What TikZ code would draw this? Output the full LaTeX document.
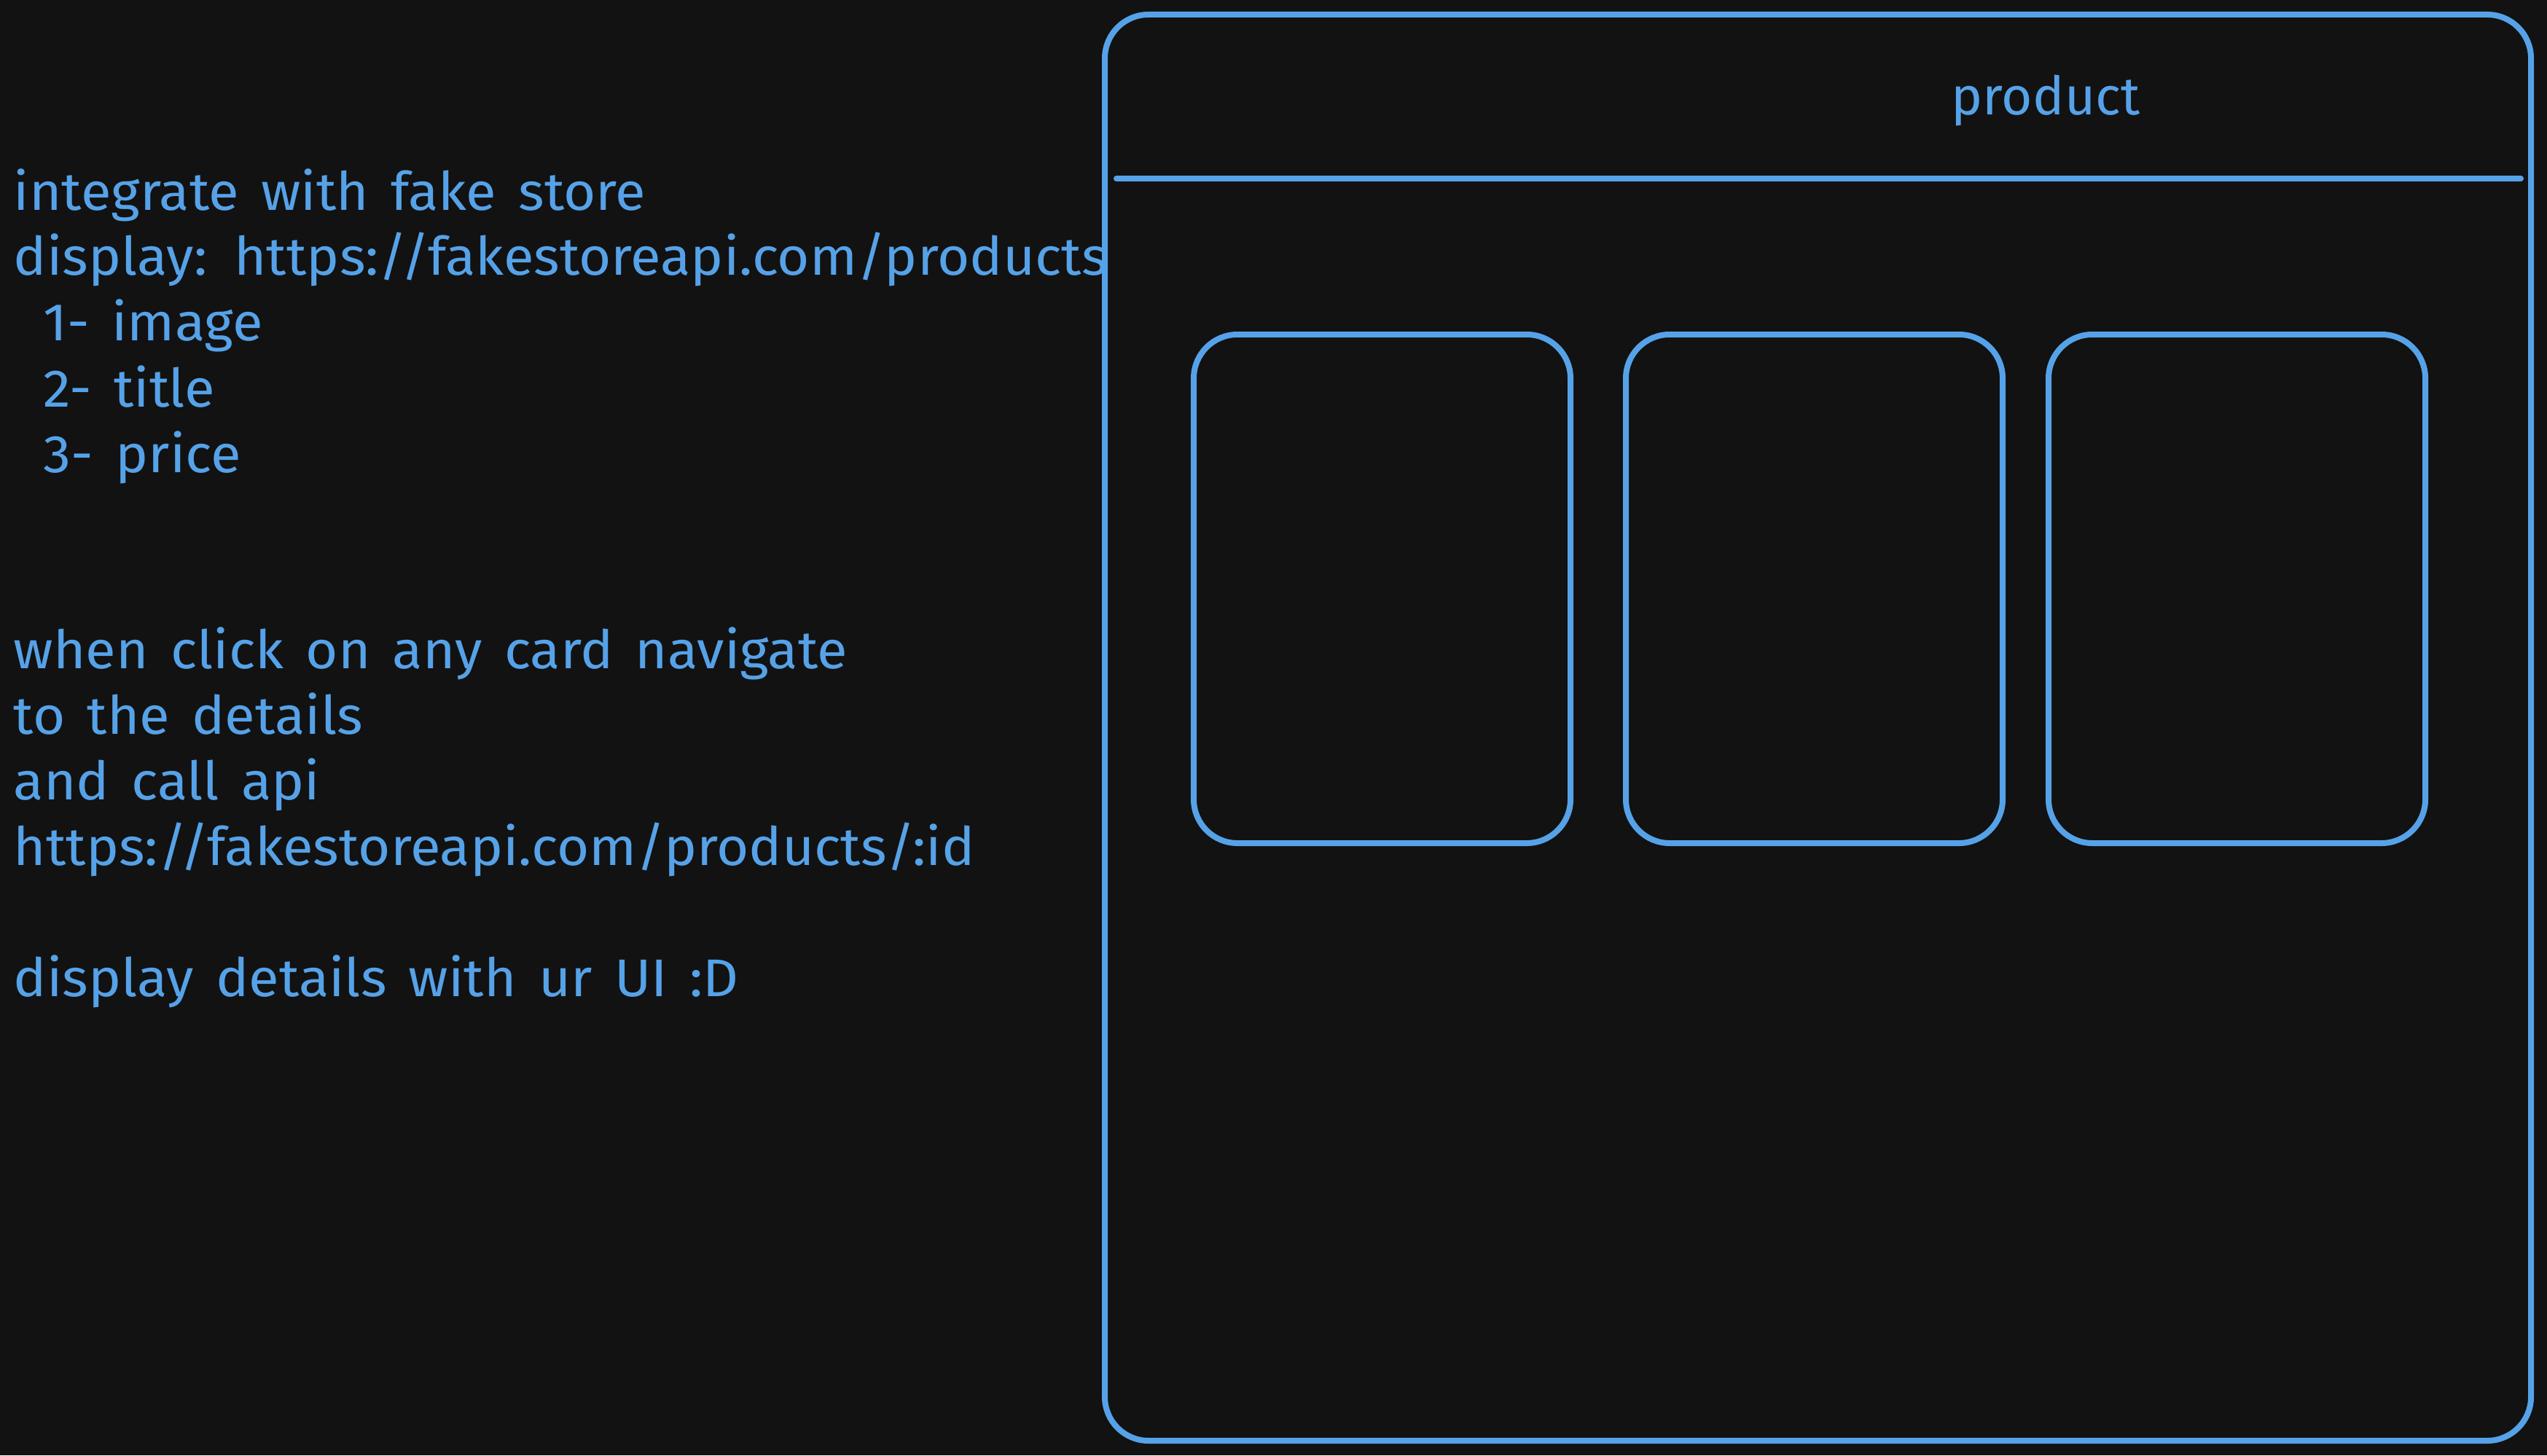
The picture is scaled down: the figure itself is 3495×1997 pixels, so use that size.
\documentclass[tikz,border=0pt]{standalone}
\usepackage{fontspec}
\setmainfont{Fira Sans}[FakeStretch=1.045, WordSpace=1.5]
\newfontfamily\titlefont{Fira Sans}
\definecolor{bgdark}{HTML}{121212}
\definecolor{sketchblue}{HTML}{56A2E8}
\tikzset{
  sketch/.style={draw=sketchblue, line width=0.08cm, line cap=round, line join=round},
  note/.style={anchor=base west, inner sep=0pt, text=sketchblue, font=\fontsize{20.7pt}{25.6pt}\selectfont},
}
\begin{document}
\begin{tikzpicture}[x=0.01cm,y=-0.01cm]
\fill[bgdark] (0,0) rectangle (3495,1997);
\useasboundingbox (0,0) rectangle (3495,1997);
% notes on the left
\node[note] (intro) at (18,288) {integrate with fake store};
\node[note] (listurl) at (18,377) {display: https://fakestoreapi.com/products};
\node[note] (itemimage) at (59,467) {1- image};
\node[note] (itemtitle) at (59,558) {2- title};
\node[note] (itemprice) at (59,648) {3- price};
\node[note] (navigate) at (18,917) {when click on any card navigate};
\node[note] (todetails) at (18,1007) {to the details};
\node[note] (callapi) at (18,1097) {and call api};
\node[note] (detailurl) at (18,1187) {https://fakestoreapi.com/products/:id};
\node[note] (ownui) at (18,1367) {display details with ur UI :D};
% page frame
\draw[sketch, rounded corners=0.6cm] (1516,20) rectangle (3473,1977);
\draw[sketch] (1532,245) -- (3459,245);
\node[note, anchor=base, font=\fontsize{20.7pt}{25.6pt}\titlefont] (pagetitle) at (2807,157) {product};
% product cards
\draw[sketch, rounded corners=0.6cm] (1638,459) rectangle (2155,1157);
\draw[sketch, rounded corners=0.6cm] (2231,459) rectangle (2748,1157);
\draw[sketch, rounded corners=0.6cm] (2811,459) rectangle (3328,1157);
\end{tikzpicture}
\end{document}
